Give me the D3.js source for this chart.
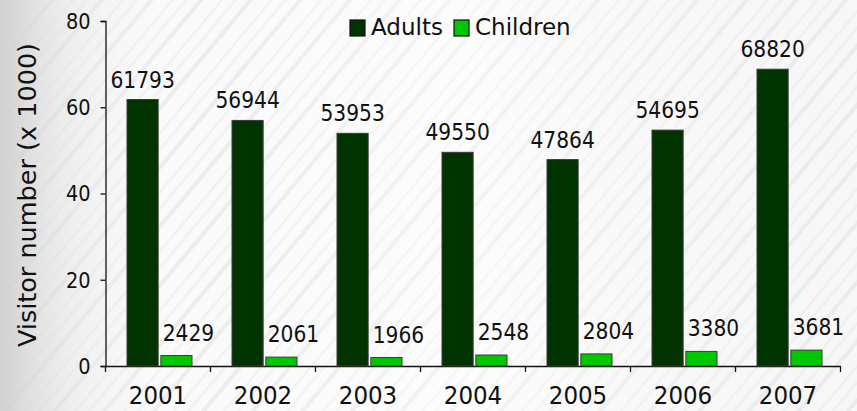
<!DOCTYPE html>
<html>
<head>
<meta charset="utf-8">
<script src="https://cdn.jsdelivr.net/npm/d3@7"></script>
<style>
html,body{margin:0;padding:0;background:#f5f5f5;}
svg{display:block;}
text{font-family:"DejaVu Sans Condensed","DejaVu Sans","Liberation Sans",sans-serif;fill:#111;}
</style>
</head>
<body>
<svg id="chart" width="857" height="411"></svg>
<script>
const years = ["2001","2002","2003","2004","2005","2006","2007"];
const adults = [61793,56944,53953,49550,47864,54695,68820];
const children = [2429,2061,1966,2548,2804,3380,3681];
const seriesNames = ["Adults","Children"];
const seriesColors = ["#013301","#00c800"];
const yTicks = [0,20,40,60,80];
const yTitle = "Visitor number (x 1000)";

const svg = d3.select("#chart");
const W = 857, H = 411;
const defs = svg.append("defs");

// background texture (decorative)
const pat = defs.append("pattern").attr("id","streaks").attr("patternUnits","userSpaceOnUse")
  .attr("width",38).attr("height",38).attr("patternTransform","rotate(40)");
pat.append("rect").attr("width",38).attr("height",38).attr("fill","#fafafa");
pat.append("rect").attr("x",0).attr("y",0).attr("width",4).attr("height",38).attr("fill","#ececec");
pat.append("rect").attr("x",17).attr("y",0).attr("width",2).attr("height",38).attr("fill","#f0f0f0");
pat.append("rect").attr("x",27).attr("y",0).attr("width",3).attr("height",38).attr("fill","#f2f2f2");
const lg = defs.append("linearGradient").attr("id","leftShade").attr("x1","0").attr("x2","1");
lg.append("stop").attr("offset","0").attr("stop-color","#cccccc").attr("stop-opacity",0.9);
lg.append("stop").attr("offset","0.07").attr("stop-color","#dddddd").attr("stop-opacity",0.5);
lg.append("stop").attr("offset","0.22").attr("stop-color","#ffffff").attr("stop-opacity",0);
lg.append("stop").attr("offset","0.55").attr("stop-color","#ffffff").attr("stop-opacity",0.4);
lg.append("stop").attr("offset","1").attr("stop-color","#e8e8e8").attr("stop-opacity",0.15);
svg.append("rect").attr("width",W).attr("height",H).attr("fill","url(#streaks)");
svg.append("rect").attr("width",W).attr("height",H).attr("fill","url(#leftShade)");

const x0 = 105.5, x1 = 840.5, yTop = 21, yBot = 366;
const x = d3.scaleBand().domain(years).range([x0,x1]).padding(0);
const xs = d3.scaleBand().domain(seriesNames).range([21.5, 86.5]).paddingInner(0.08);
const y = d3.scaleLinear().domain([0,80]).range([yBot,yTop]);

// axes
const yAxis = d3.axisLeft(y).tickValues(yTicks).tickSize(5).tickPadding(10).tickFormat(d3.format("d"));
const gy = svg.append("g").attr("transform",`translate(${x0},0)`).call(yAxis);
gy.select(".domain").attr("stroke","#111").attr("stroke-width",1.3);
gy.selectAll(".tick line").attr("stroke","#111").attr("stroke-width",1.3);
gy.selectAll(".tick text").attr("font-size",21.5).attr("fill","#111").attr("dy","0.34em");

const xAxis = d3.axisBottom(x).tickSize(0).tickPadding(0);
const gx = svg.append("g").attr("transform",`translate(0,${yBot})`).call(xAxis);
gx.select(".domain").attr("stroke","#111").attr("stroke-width",1.3);
gx.selectAll(".tick text").attr("font-size",25.5).attr("fill","#111").attr("dy",0).attr("y",38);
// boundary ticks between categories
const bounds = years.map(d=>x(d)).concat([x1]);
gx.selectAll("line.bt").data(bounds).join("line").attr("class","bt")
  .attr("x1",d=>d).attr("x2",d=>d).attr("y1",0).attr("y2",6).attr("stroke","#111").attr("stroke-width",1.3);

// bars
const data = years.map((yr,i)=>({year:yr, vals:[adults[i], children[i]]}));
const groups = svg.append("g").selectAll("g").data(data).join("g")
  .attr("transform",d=>`translate(${x(d.year)},0)`);
groups.selectAll("rect").data(d=>d.vals.map((v,j)=>({v, s:seriesNames[j], j})))
  .join("rect")
  .attr("x",d=>xs(d.s)).attr("width",xs.bandwidth())
  .attr("y",d=>y(d.v/1000)).attr("height",d=>yBot - y(d.v/1000))
  .attr("fill",d=>seriesColors[d.j]).attr("stroke","#3a3a3a").attr("stroke-width",1);

// labels
groups.selectAll("text.lab").data(d=>d.vals.map((v,j)=>({v, s:seriesNames[j], j})))
  .join("text").attr("class","lab")
  .attr("x",d=>xs(d.s)+xs.bandwidth()/2 + (d.j===1?12:0))
  .attr("y",d=>y(d.v/1000) - (d.j===1?15:12))
  .attr("text-anchor","middle").attr("font-size",22.5)
  .text(d=>d.v);

// y title
svg.append("text").attr("transform",`translate(36,195) rotate(-90)`)
  .attr("text-anchor","middle").attr("font-size",25.5).attr("fill","#222")
  .style("font-family","'DejaVu Sans',sans-serif").text(yTitle);

// legend
const leg = svg.append("g").attr("transform","translate(350,20)");
const legX = [0, 104];
seriesNames.forEach((n,i)=>{
  leg.append("rect").attr("x",legX[i]).attr("y",0).attr("width",15).attr("height",16)
    .attr("fill",seriesColors[i]).attr("stroke","#111").attr("stroke-width",1.2);
  leg.append("text").attr("x",legX[i]+21).attr("y",15).attr("font-size",23)
    .style("font-family","'DejaVu Sans',sans-serif").text(n);
});
</script>
</body>
</html>
